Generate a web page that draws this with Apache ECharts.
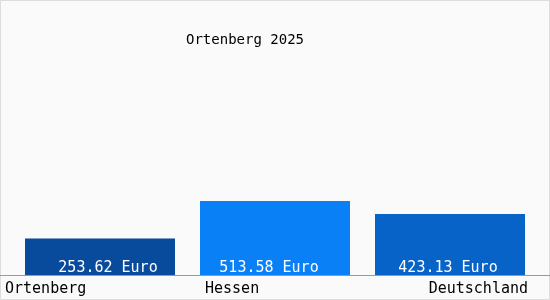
<!DOCTYPE html>
<html><head><meta charset="utf-8">
<script src="https://cdn.jsdelivr.net/npm/echarts@6/dist/echarts.min.js"></script>
<style>html,body{margin:0;padding:0;background:#fff}#c{width:550px;height:300px}</style>
</head><body><div id="c"></div>
<script>
const titleText = 'Ortenberg 2025';
const categories = ['Ortenberg', 'Hessen', 'Deutschland'];
const values = [253.62, 513.58, 423.13];
const unit = 'Euro';
const barColors = ['#084a9c', '#0a80f6', '#0863c8'];
const labelShift = [8, -6, -2];

const FONT = 'DejaVu Sans Mono';
const chart = echarts.init(document.getElementById('c'), null, {renderer: 'canvas'});
chart.setOption({
  animation: false,
  backgroundColor: '#fafafa',
  title: {
    text: titleText, left: 240, top: 28, textAlign: 'center',
    textStyle: {fontFamily: FONT, fontSize: 14, fontWeight: 'normal', color: '#000'}
  },
  graphic: [
    {type: 'rect', shape: {x: 0.5, y: 0.5, width: 549, height: 299}, style: {fill: 'none', stroke: '#dddddd', lineWidth: 1}, silent: true},
    {type: 'line', shape: {x1: 0, y1: 275.5, x2: 550, y2: 275.5}, style: {stroke: '#999999', lineWidth: 1}, z: 10, silent: true}
  ],
  grid: {left: 12.5, right: 12.5, top: 131, bottom: 25, containLabel: false},
  xAxis: {
    type: 'category', data: categories,
    axisLine: {show: false}, axisTick: {show: false},
    axisLabel: {
      margin: 7, interval: 0,
      formatter: (v, i) => ['{a|', '{b|', '{c|'][i] + v + '}',
      rich: {
        a: {width: 190, align: 'left', fontFamily: FONT, fontSize: 15, color: '#000'},
        b: {width: 140, align: 'left', fontFamily: FONT, fontSize: 15, color: '#000'},
        c: {width: 156, align: 'right', fontFamily: FONT, fontSize: 15, color: '#000'}
      }
    }
  },
  yAxis: {type: 'value', min: 0, max: 1000, show: false, splitLine: {show: false}},
  series: [{
    type: 'bar', barWidth: 150,
    data: values.map((v, i) => ({value: v, itemStyle: {color: barColors[i]}, label: {offset: [labelShift[i], 0]}})),
    label: {
      show: true, position: 'insideBottom', distance: -1,
      formatter: p => p.value.toFixed(2) + ' ' + unit,
      fontFamily: FONT, fontSize: 15, color: '#fff'
    }
  }]
});
</script></body></html>
